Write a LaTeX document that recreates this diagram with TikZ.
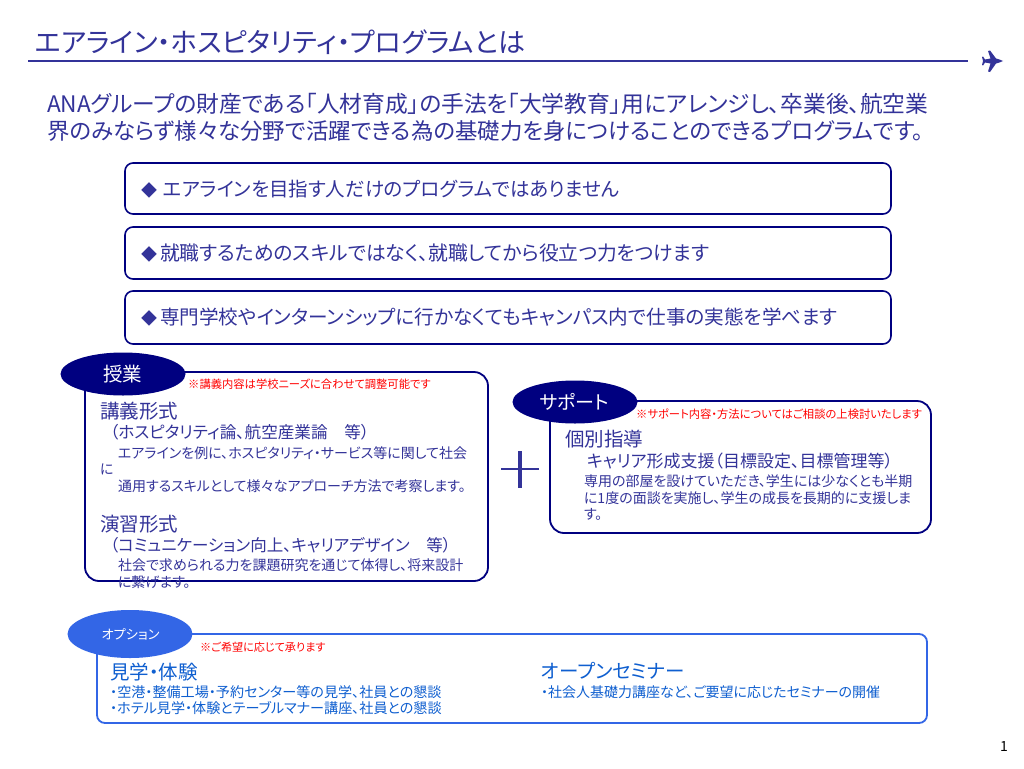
\documentclass[tikz,border=0pt]{standalone}
\usepackage{fontspec}
\usetikzlibrary{shapes.geometric}
\setmainfont[RawFeature=+palt]{Noto Sans CJK JP}
\definecolor{navyb}{HTML}{000080}
\definecolor{txtb}{HTML}{333399}
\definecolor{optb}{HTML}{3366E6}
\definecolor{optt}{HTML}{0F5FD0}
\newcommand{\fs}[1]{\fontsize{#1}{#1}\selectfont}
\newcommand{\dia}[1]{{\fs{16}◆}\hspace{#1}}
\tikzset{
 txt/.style={anchor=west,inner sep=0pt,outer sep=0pt,text=txtb},
 redt/.style={anchor=west,inner sep=0pt,text=red,font=\fs{11.3}},
 otxt/.style={anchor=west,inner sep=0pt,text=optt},
 pill/.style={draw=navyb,line width=1.6pt,rounded corners=8pt,fill=white},
 card/.style={draw=navyb,line width=1.8pt,rounded corners=14pt,fill=white},
 tag/.style={ellipse,fill=navyb,inner sep=0pt,text=white},
}
\begin{document}
\begin{tikzpicture}[x=1pt,y=-1pt]
\useasboundingbox (0,0) rectangle (1024,768);
\fill[white] (0,0) rectangle (1024,768);
\node[txt,font=\fs{27.1}] (title) at (35,42) {エアライン・ホスピタリティ・プログラムとは};
\coordinate (ruleL) at (28,61); \coordinate (ruleR) at (968,61);
\draw[color=txtb,line width=1.5pt] (ruleL) -- (ruleR);
\fill[txtb] (1003,61) .. controls (1000,59.5) and (998,59) .. (996,58.5) -- (990,50.5) -- (988,51) -- (990.5,58.5) -- (985,59.5) -- (983,56.5) -- (982,57) -- (983,61) -- (982,65) -- (983,65.5) -- (985,62.5) -- (990.5,63.5) -- (988,71.5) -- (990,72) -- (996,63.5) .. controls (998,63) and (1000,62.5) .. (1003,61) -- cycle;
\node[txt,font=\fs{22.75}] (lead1) at (47,104) {ANAグループの財産である「人材育成」の手法を「大学教育」用にアレンジし、卒業後、航空業};
\node[txt,font=\fs{22.45}] (lead2) at (47,131) {界のみならず様々な分野で活躍できる為の基礎力を身につけることのできるプログラムです。};
\draw[pill] (125,163) rectangle (891,214);
\draw[pill] (125,227) rectangle (891,279);
\draw[pill] (125,291) rectangle (891,344);
\node[txt,font=\fs{19.5}] (p1) at (141,189) {\dia{6pt}エアラインを目指す人だけのプログラムではありません};
\node[txt,font=\fs{19.8}] (p2) at (141,253) {\dia{3pt}就職するためのスキルではなく、就職してから役立つ力をつけます};
\node[txt,font=\fs{19.6}] (p3) at (141,317) {\dia{3pt}専門学校やインターンシップに行かなくてもキャンパス内で仕事の実態を学べます};
% jugyo
\draw[card] (85,372) rectangle (488,581);
\node[tag,minimum width=125pt,minimum height=43pt] (tag1) at (123,374) {};
\node[text=white,inner sep=0pt,font=\fs{19.5}] (tag1t) at (122.5,374) {授業};
\node[redt] (r1) at (188,384.5) {※講義内容は学校ニーズに合わせて調整可能です};
\node[txt,font=\fs{19.5}] (a1) at (100,411) {講義形式};
\node[txt,font=\fs{16.6}] (a2) at (110,432) {（ホスピタリティ論、航空産業論　等）};
\node[txt,font=\fs{14}] (a3) at (118,453) {エアラインを例に、ホスピタリティ・サービス等に関して社会};
\node[txt,font=\fs{14}] (a4) at (100,469.5) {に};
\node[txt,font=\fs{14}] (a5) at (118,486) {通用するスキルとして様々なアプローチ方法で考察します。};
\node[txt,font=\fs{19.5}] (a6) at (100,524) {演習形式};
\node[txt,font=\fs{16.5}] (a7) at (110,545) {（コミュニケーション向上、キャリアデザイン　等）};
\node[txt,font=\fs{14}] (a8) at (118,565) {社会で求められる力を課題研究を通じて体得し、将来設計};
\node[txt,font=\fs{14}] (a9) at (118,582) {に繋げます。};
% plus
\coordinate (plusL) at (501,469); \coordinate (plusR) at (539,469);
\coordinate (plusT) at (520,451); \coordinate (plusB) at (520,488);
\draw[color=txtb,line width=2.5pt] (plusL) -- (plusR);
\draw[color=txtb,line width=3.5pt] (plusT) -- (plusB);
% support
\draw[card] (550,401) rectangle (931,533);
\node[tag,minimum width=125pt,minimum height=43pt] (tag2) at (575,402) {};
\node[text=white,inner sep=0pt,font=\fs{19}] (tag2t) at (574.5,402) {サポート};
\node[redt] (r2) at (636,414) {※サポート内容・方法についてはご相談の上検討いたします};
\node[txt,font=\fs{19.5}] (b1) at (565,439) {個別指導};
\node[txt,font=\fs{17}] (b2) at (587,461) {キャリア形成支援（目標設定、目標管理等）};
\node[txt,font=\fs{14}] (b3) at (584,481) {専用の部屋を設けていただき、学生には少なくとも半期};
\node[txt,font=\fs{14}] (b4) at (584,498) {に1度の面談を実施し、学生の成長を長期的に支援しま};
\node[txt,font=\fs{14}] (b5) at (584,514) {す。};
% option
\draw[draw=optb,line width=1.8pt,rounded corners=8pt,fill=white] (97,634) rectangle (927,723);
\node[tag,fill=optb,minimum width=125pt,minimum height=48pt] (tag3) at (130,634) {};
\node[text=white,inner sep=0pt,font=\fs{13.2}] (tag3t) at (130.5,634) {オプション};
\node[redt,font=\fs{11.1}] (r3) at (200,647) {※ご希望に応じて承ります};
\node[otxt,font=\fs{19.5}] (c1) at (110,672) {見学・体験};
\node[otxt,font=\fs{14.1}] (c2) at (110,692) {・空港・整備工場・予約センター等の見学、社員との懇談};
\node[otxt,font=\fs{14.1}] (c3) at (110,708) {・ホテル見学・体験とテーブルマナー講座、社員との懇談};
\node[otxt,font=\fs{19.5}] (d1) at (541,671) {オープンセミナー};
\node[otxt,font=\fs{14}] (d2) at (541,692) {・社会人基礎力講座など、ご要望に応じたセミナーの開催};
\node[anchor=east,inner sep=0pt,font=\fs{14}] (pg) at (1008,746) {1};
\end{tikzpicture}
\end{document}
